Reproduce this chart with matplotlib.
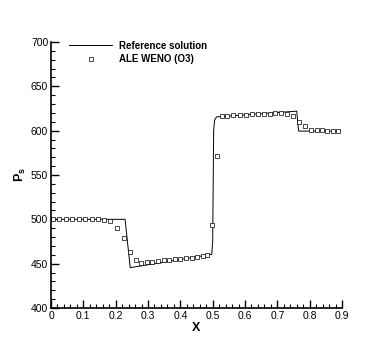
import numpy as np
import matplotlib.pyplot as plt
from matplotlib.ticker import MultipleLocator

# -------------------------------
# DATA
# -------------------------------

# reference solution (exact Riemann solution, piecewise)
ref_x = [0.0, 0.229, 0.245, 0.497, 0.500, 0.503, 0.506, 0.512,
         0.760, 0.764, 0.766, 0.895]
ref_p = [500.0, 500.0, 445.5, 460.5, 475.0, 600.0, 612.0, 615.5,
         622.0, 605.0, 599.5, 599.5]

# ALE WENO (O3) cell values
weno_x = [0.005, 0.026, 0.045, 0.065, 0.086, 0.105, 0.126, 0.145, 0.165,
          0.183, 0.205, 0.226, 0.244, 0.263, 0.279,
          0.296, 0.313, 0.330, 0.348, 0.365, 0.383, 0.400, 0.418, 0.435,
          0.453, 0.470, 0.483,
          0.497, 0.512,
          0.528, 0.545, 0.564, 0.583, 0.602, 0.621, 0.639, 0.658, 0.676,
          0.694, 0.711, 0.729, 0.748, 0.766, 0.785,
          0.803, 0.822, 0.838, 0.855, 0.873, 0.889]
weno_p = [500.0, 500.0, 500.0, 500.0, 500.0, 500.0, 500.0, 500.0, 499.6,
          498.5, 490.5, 478.5, 463.5, 454.0, 451.0,
          451.6, 452.3, 453.0, 453.7, 454.4, 455.0, 455.6, 456.2, 456.9,
          457.6, 458.4, 459.5,
          493.5, 571.5,
          616.5, 617.0, 617.3, 617.7, 618.0, 618.4, 618.7, 619.0, 619.3,
          619.6, 619.8, 618.8, 616.5, 610.0, 605.0,
          600.8, 600.4, 600.2, 600.1, 600.1, 600.1]

# -------------------------------
# STYLE
# -------------------------------

plt.rcParams['font.family'] = ['Liberation Sans', 'DejaVu Sans']
plt.rcParams['mathtext.fontset'] = 'custom'
plt.rcParams['mathtext.rm'] = 'Liberation Sans'
plt.rcParams['mathtext.bf'] = 'Liberation Sans:bold'
plt.rcParams['mathtext.it'] = 'Liberation Sans:italic'

# -------------------------------
# PLOT
# -------------------------------

fig = plt.figure(figsize=(3.9, 3.47), dpi=100)
ax = fig.add_axes([0.1308, 0.1124, 0.7462, 0.7666])

ax.plot(ref_x, ref_p, color='black', linewidth=0.7,
        label='Reference solution')
ax.plot(weno_x, weno_p, linestyle='none', marker='s', markersize=2.5,
        markerfacecolor='white', markeredgecolor='black',
        markeredgewidth=0.5, label='ALE WENO (O3)')

ax.set_xlim(0, 0.9)
ax.set_ylim(400, 700)

ax.xaxis.set_major_locator(MultipleLocator(0.1))
ax.xaxis.set_minor_locator(MultipleLocator(0.02))
ax.yaxis.set_major_locator(MultipleLocator(50))
ax.yaxis.set_minor_locator(MultipleLocator(10))
ax.set_xticks(np.arange(0, 0.91, 0.1))
ax.set_xticklabels(['0', '0.1', '0.2', '0.3', '0.4', '0.5',
                    '0.6', '0.7', '0.8', '0.9'])

ax.tick_params(which='both', direction='in', labelsize=7.5, width=1.0,
               top=False, right=False, pad=2)
ax.tick_params(which='major', length=6)
ax.tick_params(which='minor', length=3, width=0.8)

ax.spines['top'].set_visible(False)
ax.spines['right'].set_visible(False)
ax.spines['left'].set_linewidth(1.2)
ax.spines['bottom'].set_linewidth(1.2)

ax.set_xlabel('X', fontsize=9, fontweight='bold', labelpad=1)
ax.set_ylabel(r'$\mathbf{P_s}$', fontsize=9, labelpad=2)

leg = ax.legend(loc='upper left', bbox_to_anchor=(0.05, 1.02),
                frameon=False, fontsize=7, handlelength=4.4,
                handletextpad=0.7, labelspacing=0.4, borderaxespad=0)
for t in leg.get_texts():
    t.set_fontweight('bold')

fig.savefig('out.png', dpi=100)
